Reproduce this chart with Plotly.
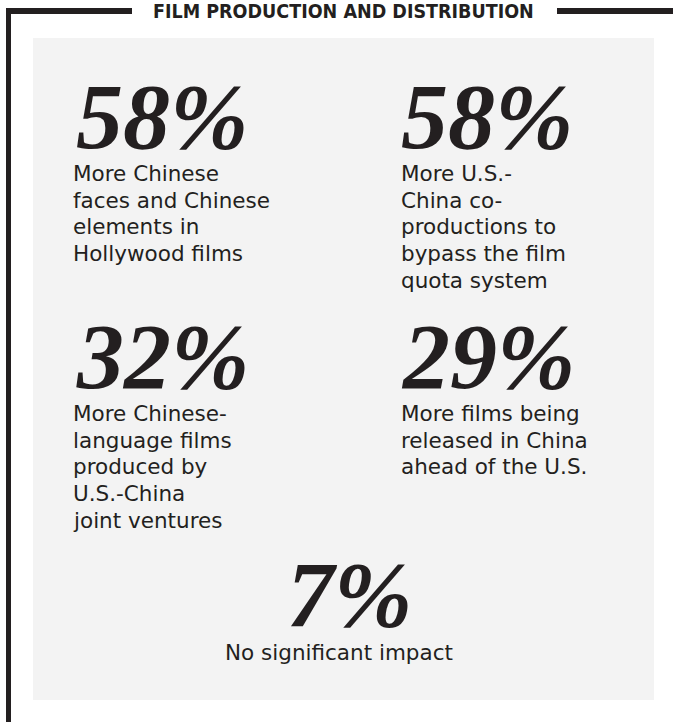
import plotly.graph_objects as go

# ---- data ----
title = "FILM PRODUCTION AND DISTRIBUTION"
percent_values = [58, 58, 32, 29, 7]
label_lines = [
    ["More Chinese", "faces and Chinese", "elements in", "Hollywood films"],
    ["More U.S.-", "China co-", "productions to", "bypass the film", "quota system"],
    ["More Chinese-", "language films", "produced by", "U.S.-China", "joint ventures"],
    ["More films being", "released in China", "ahead of the U.S."],
    ["No significant impact"],
]

# ---- layout grid (pixels) ----
W, H = 673, 722
num_x = [74, 399, 74, 399, 349]
txt_x = [71, 399, 71, 399, 339]
num_anchor = ["left", "left", "left", "left", "center"]
row_top = [62, 62, 302, 302, 540]
txt_top = [159, 159, 399, 399, 638]
LINE_GAP = 26.7

INK = "#231f20"
fig = go.Figure()

shapes = [
    dict(type="rect", x0=33, x1=654, y0=38, y1=700, fillcolor="#f3f3f3", line_width=0, layer="below"),
    dict(type="line", x0=8.5, x1=8.5, y0=8, y1=H, line=dict(color=INK, width=5)),
    dict(type="line", x0=6, x1=132, y0=11, y1=11, line=dict(color=INK, width=6)),
    dict(type="line", x0=557, x1=W, y0=11, y1=11, line=dict(color=INK, width=6)),
]

annotations = [
    dict(x=343.5, y=0, xref="x", yref="y", text=title, showarrow=False,
         xanchor="center", yanchor="top", yshift=2,
         font=dict(family="DejaVu Sans Condensed, DejaVu Sans", size=19.5,
                   color=INK, weight="bold"))
]
for i, v in enumerate(percent_values):
    centered = num_anchor[i] == "center"
    annotations.append(dict(
        x=num_x[i], y=row_top[i], xref="x", yref="y", text=f"{v}%", showarrow=False,
        xanchor=num_anchor[i], yanchor="top",
        font=dict(family="Liberation Serif, serif", size=94, color=INK, weight="bold", style="italic")))
    for j, line in enumerate(label_lines[i]):
        annotations.append(dict(
            x=txt_x[i], y=txt_top[i] + j * LINE_GAP, xref="x", yref="y", text=line, showarrow=False,
            xanchor="center" if centered else "left", yanchor="top",
            font=dict(family="DejaVu Sans", size=21.5, color=INK)))

fig.update_layout(
    width=W, height=H, margin=dict(l=0, r=0, t=0, b=0),
    paper_bgcolor="white", plot_bgcolor="white",
    xaxis=dict(range=[0, W], visible=False, fixedrange=True),
    yaxis=dict(range=[H, 0], visible=False, fixedrange=True),
    shapes=shapes, annotations=annotations, showlegend=False,
)
fig.write_html("out.html", config={"displayModeBar": False},
               post_script="document.body.style.margin='0';document.body.style.overflow='hidden';")
